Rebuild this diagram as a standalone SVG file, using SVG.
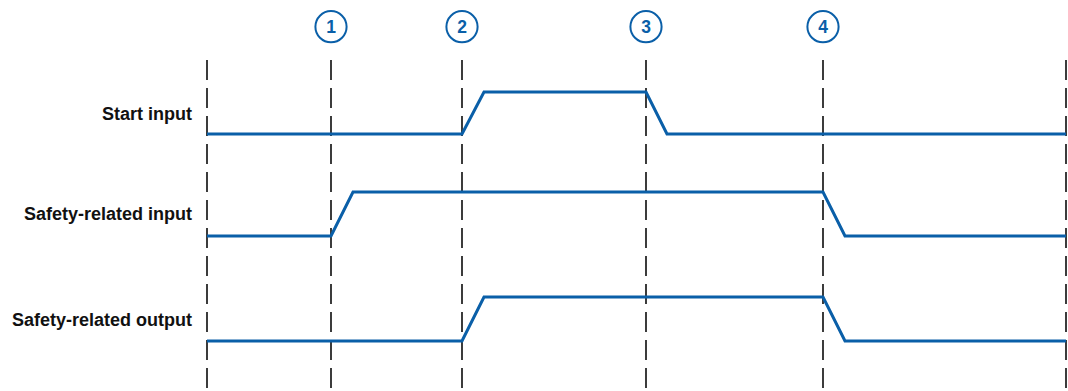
<svg xmlns="http://www.w3.org/2000/svg" width="1068" height="391" viewBox="0 0 1068 391">
<style>
.grid{stroke:#1a1a1a;stroke-width:1.7;stroke-dasharray:20 8;fill:none}
.sig{stroke:#0a5fa8;stroke-width:3;fill:none;stroke-linejoin:miter}
.lbl{font-family:"Liberation Sans",Arial,sans-serif;font-weight:bold;font-size:18px;fill:#111;text-anchor:end}
.mk circle{fill:#fff;stroke:#0a5fa8;stroke-width:2}
.mk text{font-family:"Liberation Sans",Arial,sans-serif;font-weight:bold;font-size:17.5px;fill:#0a5fa8;text-anchor:middle}
</style>
<rect width="1068" height="391" fill="#fff"/>
<g id="gridlines">
<line class="grid" x1="207" y1="60" x2="207" y2="391"/>
<line class="grid" x1="331" y1="60" x2="331" y2="391"/>
<line class="grid" x1="462" y1="60" x2="462" y2="391"/>
<line class="grid" x1="646" y1="60" x2="646" y2="391"/>
<line class="grid" x1="823" y1="60" x2="823" y2="391"/>
<line class="grid" x1="1066" y1="60" x2="1066" y2="391"/>
</g>
<g id="marker1" class="mk"><circle cx="331" cy="26.7" r="15.6"/><text x="331" y="32.6">1</text></g>
<g id="marker2" class="mk"><circle cx="462" cy="26.7" r="15.6"/><text x="462" y="32.6">2</text></g>
<g id="marker3" class="mk"><circle cx="646" cy="26.7" r="15.6"/><text x="646" y="32.6">3</text></g>
<g id="marker4" class="mk"><circle cx="823" cy="26.7" r="15.6"/><text x="823" y="32.6">4</text></g>
<g id="start-input">
<text class="lbl" x="192" y="120">Start input</text>
<polyline class="sig" points="207,134 462,134 484,92 646,92 667,134 1066,134"/>
</g>
<g id="safety-input">
<text class="lbl" x="192" y="220">Safety-related input</text>
<polyline class="sig" points="207,236 331,236 353,192 823,192 845,236 1066,236"/>
</g>
<g id="safety-output">
<text class="lbl" x="192" y="326">Safety-related output</text>
<polyline class="sig" points="207,341 462,341 484,297 823,297 845,341 1066,341"/>
</g>
</svg>
